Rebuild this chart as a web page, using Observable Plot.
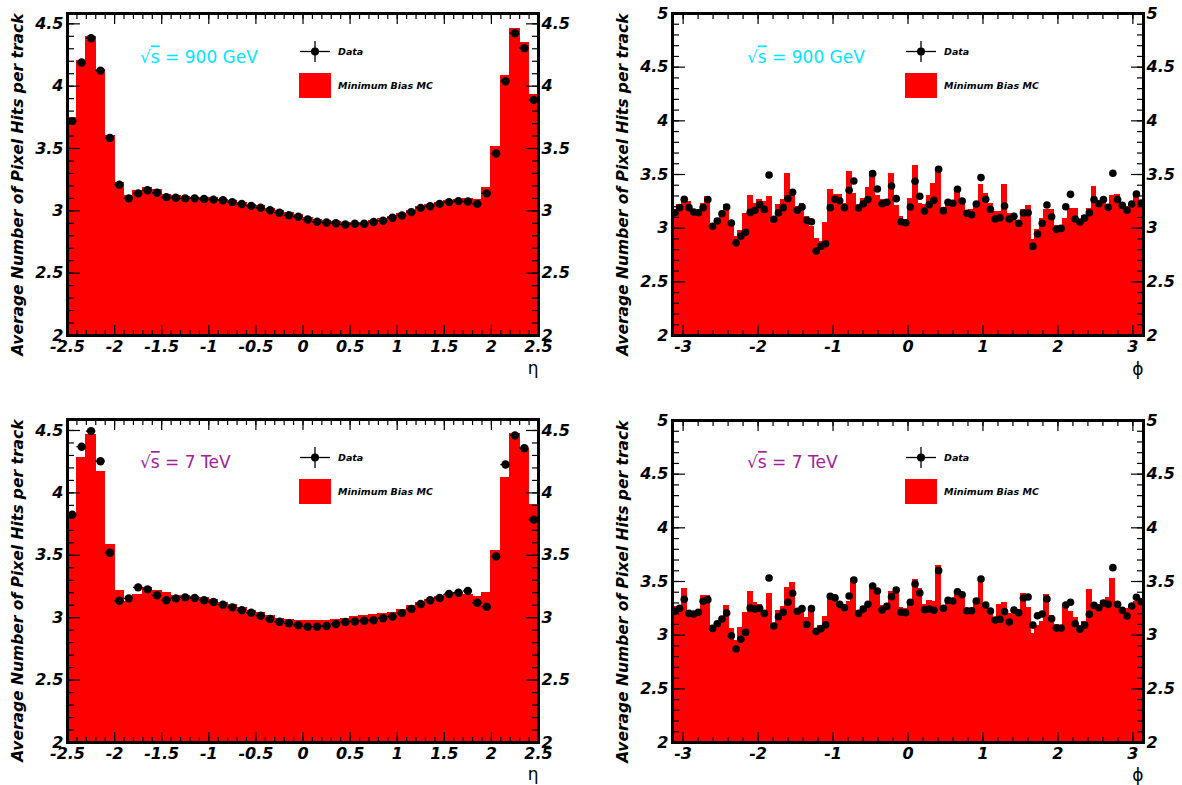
<!DOCTYPE html>
<html>
<head>
<meta charset="utf-8">
<script src="https://cdn.jsdelivr.net/npm/d3@7"></script>
<script src="https://cdn.jsdelivr.net/npm/@observablehq/plot@0.6"></script>
<style>
  body { margin: 0; background: #fff; }
  #page { position: relative; width: 1182px; height: 785px; overflow: hidden; background: #fff; }
  .panel { position: absolute; }
</style>
</head>
<body>
<div id="page"></div>
<script>
// Average pixel hits per track, data vs. minimum-bias MC, in bins of eta (50) and phi (100)
const eta900Data = [3.72, 4.19, 4.385, 4.125, 3.585, 3.21, 3.10, 3.14, 3.165, 3.145,
  3.11, 3.105, 3.10, 3.10, 3.095, 3.09, 3.085, 3.07, 3.055, 3.04,
  3.025, 3.005, 2.985, 2.965, 2.952, 2.93, 2.912, 2.906, 2.90, 2.89,
  2.896, 2.896, 2.91, 2.92, 2.944, 2.963, 2.99, 3.024, 3.037, 3.056,
  3.07, 3.078, 3.075, 3.056, 3.14, 3.46, 4.04, 4.425, 4.305, 3.89];
const eta900MC = [3.745, 4.20, 4.395, 4.125, 3.60, 3.225, 3.12, 3.155, 3.18, 3.165,
  3.125, 3.115, 3.11, 3.105, 3.10, 3.10, 3.09, 3.08, 3.065, 3.05,
  3.035, 3.015, 2.995, 2.978, 2.962, 2.945, 2.925, 2.915, 2.91, 2.905,
  2.905, 2.905, 2.915, 2.93, 2.95, 2.97, 3.0, 3.03, 3.045, 3.065,
  3.08, 3.09, 3.095, 3.09, 3.18, 3.51, 4.08, 4.46, 4.345, 3.93];

const phi900Data = [3.144, 3.191, 3.269, 3.191, 3.150, 3.144, 3.191, 3.266, 3.017, 3.067,
  3.135, 3.197, 3.048, 2.864, 2.924, 2.961, 3.147, 3.166, 3.219, 3.175,
  3.496, 3.082, 3.144, 3.191, 3.275, 3.334, 3.166, 3.197, 3.073, 3.060,
  2.787, 2.830, 2.855, 3.191, 3.269, 3.256, 3.191, 3.353, 3.440, 3.188,
  3.228, 3.266, 3.508, 3.365, 3.228, 3.241, 3.393, 3.275, 3.060, 3.051,
  3.197, 3.437, 3.297, 3.160, 3.219, 3.259, 3.548, 3.163, 3.241, 3.231,
  3.362, 3.253, 3.138, 3.125, 3.225, 3.471, 3.269, 3.175, 3.085, 3.097,
  3.206, 3.085, 3.110, 3.045, 3.141, 3.144, 2.830, 2.945, 3.045, 3.216,
  3.107, 2.989, 2.998, 3.200, 3.315, 3.085, 3.057, 3.094, 3.144, 3.266,
  3.228, 3.266, 3.194, 3.511, 3.266, 3.212, 3.166, 3.225, 3.318, 3.234];
const phi900MC = [3.171, 3.212, 3.243, 3.243, 3.166, 3.15, 3.221, 3.29, 3.017, 3.088,
  3.14, 3.212, 3.01, 2.917, 2.97, 3.135, 3.296, 3.228, 3.259, 3.243,
  3.29, 3.073, 3.212, 3.265, 3.50, 3.305, 3.197, 3.228, 3.104, 3.01,
  2.901, 2.87, 3.048, 3.359, 3.305, 3.305, 3.228, 3.52, 3.32, 3.212,
  3.275, 3.374, 3.523, 3.296, 3.259, 3.259, 3.50, 3.206, 3.104, 3.073,
  3.275, 3.58, 3.228, 3.219, 3.30, 3.415, 3.56, 3.166, 3.253, 3.253,
  3.337, 3.243, 3.15, 3.166, 3.228, 3.40, 3.321, 3.222, 3.15, 3.15,
  3.405, 3.135, 3.104, 3.067, 3.166, 3.203, 2.886, 2.98, 3.088, 3.172,
  3.172, 3.017, 3.017, 3.088, 3.181, 3.175, 3.057, 3.11, 3.181, 3.384,
  3.243, 3.259, 3.156, 3.296, 3.305, 3.197, 3.197, 3.228, 3.29, 3.228];

const eta7Data = [3.826, 4.37, 4.495, 4.254, 3.52, 3.136, 3.155, 3.243, 3.227, 3.18,
  3.14, 3.155, 3.163, 3.158, 3.14, 3.126, 3.104, 3.083, 3.06, 3.04,
  3.016, 2.99, 2.968, 2.955, 2.94, 2.928, 2.928, 2.933, 2.95, 2.965,
  2.97, 2.976, 2.98, 2.995, 3.01, 3.037, 3.07, 3.11, 3.14, 3.158,
  3.19, 3.20, 3.214, 3.12, 3.088, 3.49, 4.227, 4.46, 4.358, 3.786];
const eta7MC = [3.82, 4.28, 4.46, 4.166, 3.585, 3.217, 3.128, 3.18, 3.235, 3.21,
  3.195, 3.176, 3.176, 3.168, 3.155, 3.14, 3.12, 3.10, 3.078, 3.056,
  3.037, 3.013, 2.99, 2.98, 2.976, 2.97, 2.97, 2.976, 2.984, 2.992,
  3.003, 3.01, 3.02, 3.03, 3.04, 3.06, 3.09, 3.12, 3.14, 3.163,
  3.185, 3.198, 3.18, 3.168, 3.198, 3.53, 4.117, 4.473, 4.34, 3.9];

const phi7Data = [3.222, 3.250, 3.334, 3.203, 3.197, 3.213, 3.315, 3.331, 3.063, 3.107,
  3.150, 3.207, 2.995, 2.871, 2.961, 3.026, 3.253, 3.244, 3.250, 3.203,
  3.533, 3.085, 3.172, 3.213, 3.306, 3.390, 3.222, 3.247, 3.100, 3.247,
  3.035, 3.060, 3.097, 3.362, 3.347, 3.287, 3.256, 3.365, 3.514, 3.203,
  3.244, 3.287, 3.458, 3.412, 3.234, 3.268, 3.359, 3.421, 3.213, 3.209,
  3.306, 3.477, 3.393, 3.237, 3.244, 3.231, 3.601, 3.250, 3.324, 3.318,
  3.405, 3.377, 3.228, 3.228, 3.318, 3.523, 3.281, 3.225, 3.141, 3.147,
  3.219, 3.122, 3.234, 3.209, 3.346, 3.356, 3.094, 3.181, 3.197, 3.337,
  3.153, 3.066, 3.066, 3.281, 3.306, 3.107, 3.054, 3.094, 3.194, 3.278,
  3.256, 3.299, 3.287, 3.629, 3.287, 3.231, 3.179, 3.272, 3.353, 3.312];
const phi7MC = [3.26, 3.25, 3.43, 3.17, 3.17, 3.21, 3.367, 3.367, 3.087, 3.10,
  3.15, 3.275, 3.056, 2.948, 3.063, 3.206, 3.40, 3.296, 3.281, 3.197,
  3.38, 3.094, 3.222, 3.259, 3.437, 3.486, 3.244, 3.259, 3.156, 3.244,
  3.056, 3.087, 3.165, 3.367, 3.343, 3.281, 3.213, 3.306, 3.523, 3.213,
  3.259, 3.299, 3.43, 3.43, 3.275, 3.275, 3.40, 3.437, 3.25, 3.244,
  3.321, 3.517, 3.43, 3.281, 3.321, 3.312, 3.639, 3.259, 3.337, 3.321,
  3.384, 3.368, 3.237, 3.237, 3.29, 3.539, 3.268, 3.213, 3.156, 3.281,
  3.30, 3.197, 3.213, 3.213, 3.384, 3.25, 3.01, 3.088, 3.119, 3.374,
  3.181, 3.094, 3.088, 3.281, 3.213, 3.156, 3.088, 3.119, 3.424, 3.30,
  3.275, 3.321, 3.343, 3.523, 3.29, 3.244, 3.244, 3.265, 3.312, 3.321];

// Axis tick labels
const etaTickLabels = [-2.5, -2, -1.5, -1, -0.5, 0, 0.5, 1, 1.5, 2, 2.5];
const phiTickLabels = [-3, -2, -1, 0, 1, 2, 3];
const etaYTickLabels = [2, 2.5, 3, 3.5, 4, 4.5];
const phiYTickLabels = [2, 2.5, 3, 3.5, 4, 4.5, 5];

// Texts
const yTitle = "Average Number of Pixel Hits per track";
const legendNames = ["Data", "Minimum Bias MC"];
const energies = [
  {pre: "√", rad: "s", post: " = 900 GeV", color: "#00e5ff"},
  {pre: "√", rad: "s", post: " = 7 TeV", color: "#a020a0"}
];

const FONT = '"DejaVu Sans", "Liberation Sans", sans-serif';

function minorTicks(a, b, step) {
  const n0 = Math.ceil(a / step - 1e-9), n1 = Math.floor(b / step + 1e-9);
  return d3.range(n0, n1 + 1).map(k => +(k * step).toFixed(6));
}

function histPanel(cfg) {
  const n = cfg.data.length;
  const [x0, x1] = cfg.xDomain;
  const w = (x1 - x0) / n;
  const rows = cfg.data.map((v, i) => ({
    lo: x0 + i * w, hi: x0 + (i + 1) * w, mid: x0 + (i + 0.5) * w,
    data: v, mc: cfg.mc[i]
  }));
  const fmt = d => String(d);
  const yMinor = minorTicks(cfg.yDomain[0], cfg.yDomain[1], 0.1);
  const xMinor = minorTicks(x0, x1, cfg.xMinorStep);
  const tickStyle = {label: null, text: null, strokeWidth: 1.2};

  const marks = [
    // MC histogram, filled from below the visible range
    Plot.rect(rows, {x1: "lo", x2: "hi", y1: 0, y2: "mc", fill: "#ff0000", stroke: "#ff0000", strokeWidth: 1.2, shapeRendering: "crispEdges", clip: true})
  ];
  if (cfg.xErrors) {
    marks.push(Plot.ruleY(rows, {y: "data", x1: "lo", x2: "hi", stroke: "black", strokeWidth: 1.3, clip: true}));
  }
  marks.push(Plot.dot(rows, {x: "mid", y: "data", r: cfg.r, fill: "black", stroke: null}));

  marks.push(
    // inward ticks on all four sides
    Plot.axisY({...tickStyle, ticks: yMinor, anchor: "left", tickSize: -7}),
    Plot.axisY({...tickStyle, ticks: cfg.yTicks, anchor: "left", tickSize: -13}),
    Plot.axisY({...tickStyle, ticks: yMinor, anchor: "right", tickSize: -7}),
    Plot.axisY({...tickStyle, ticks: cfg.yTicks, anchor: "right", tickSize: -13}),
    Plot.axisX({...tickStyle, ticks: xMinor, anchor: "bottom", tickSize: -5}),
    Plot.axisX({...tickStyle, ticks: cfg.xTicks, anchor: "bottom", tickSize: -10}),
    Plot.axisX({...tickStyle, ticks: xMinor, anchor: "top", tickSize: -5}),
    Plot.axisX({...tickStyle, ticks: cfg.xTicks, anchor: "top", tickSize: -10}),
    // tick labels: left, right, bottom
    Plot.axisY({ticks: cfg.yTicks, anchor: "left", tickSize: 0, tickPadding: 4, tickFormat: fmt, label: null}),
    Plot.axisY({ticks: cfg.yTicks, anchor: "right", tickSize: 0, tickPadding: 3, tickFormat: fmt, label: null}),
    Plot.axisX({ticks: cfg.xTicks, anchor: "bottom", tickSize: 0, tickPadding: 5, tickFormat: fmt, label: null}),
    // axis titles
    Plot.text([yTitle], {text: d => d, frameAnchor: "top-left", rotate: -90, textAnchor: "end", lineAnchor: "bottom", dx: -45, fontSize: 15.5}),
    Plot.text([cfg.xTitle], {text: d => d, frameAnchor: "bottom-right", textAnchor: "end", lineAnchor: "bottom", dy: cfg.xTitleDy, fontSize: 17, fontWeight: "normal", fontStyle: "normal"}),
    Plot.frame({stroke: "black", strokeWidth: 3})
  );

  const svg = Plot.plot({
    width: cfg.width, height: cfg.height,
    marginTop: cfg.m[0], marginRight: cfg.m[1], marginBottom: cfg.m[2], marginLeft: cfg.m[3],
    x: {domain: cfg.xDomain, label: null},
    y: {domain: cfg.yDomain, label: null},
    style: {fontFamily: FONT, fontSize: "16px", fontWeight: "bold", fontStyle: "italic", background: "transparent", overflow: "visible", color: "black"},
    marks
  });
  const holder = document.createElement("div");
  holder.className = "panel";
  holder.style.left = cfg.left + "px";
  holder.style.top = cfg.top + "px";
  holder.appendChild(svg);
  document.getElementById("page").appendChild(holder);
}

const PI = Math.PI;
histPanel({left: 0, top: 0, width: 591, height: 392, m: [13, 53, 57, 67],
  xDomain: [-2.5, 2.5], yDomain: [2, 4.583], xTicks: etaTickLabels, yTicks: etaYTickLabels, xMinorStep: 0.1,
  data: eta900Data, mc: eta900MC, xErrors: true, r: 4.2, xTitle: "η", xTitleDy: 38});
histPanel({left: 591, top: 0, width: 591, height: 392, m: [13, 39, 57, 81],
  xDomain: [-PI, PI], yDomain: [2, 5], xTicks: phiTickLabels, yTicks: phiYTickLabels, xMinorStep: 0.2,
  data: phi900Data, mc: phi900MC, xErrors: false, r: 3.8, xTitle: "ϕ", xTitleDy: 39});
histPanel({left: 0, top: 400, width: 591, height: 385, m: [19, 53, 43, 67],
  xDomain: [-2.5, 2.5], yDomain: [2, 4.588], xTicks: etaTickLabels, yTicks: etaYTickLabels, xMinorStep: 0.1,
  data: eta7Data, mc: eta7MC, xErrors: true, r: 4.2, xTitle: "η", xTitleDy: 37});
histPanel({left: 591, top: 400, width: 591, height: 385, m: [20, 39, 43, 81],
  xDomain: [-PI, PI], yDomain: [2, 5], xTicks: phiTickLabels, yTicks: phiYTickLabels, xMinorStep: 0.2,
  data: phi7Data, mc: phi7MC, xErrors: false, r: 3.8, xTitle: "ϕ", xTitleDy: 38});

// Legends and centre-of-mass energy labels
const overlay = d3.select("#page").append("svg")
  .attr("width", 1182).attr("height", 785)
  .style("position", "absolute").style("left", "0px").style("top", "0px")
  .style("pointer-events", "none");

function legend(x, y) {
  const g = overlay.append("g").attr("transform", `translate(${x},${y})`)
    .style("font-family", FONT).style("font-weight", "bold").style("font-style", "italic").style("font-size", "9.5px");
  g.append("line").attr("x1", 1).attr("x2", 31).attr("y1", 11.5).attr("y2", 11.5).attr("stroke", "black").attr("stroke-width", 1.3);
  g.append("line").attr("x1", 16).attr("x2", 16).attr("y1", 1).attr("y2", 22).attr("stroke", "black").attr("stroke-width", 1.3);
  g.append("circle").attr("cx", 16).attr("cy", 11.5).attr("r", 4).attr("fill", "black");
  g.append("text").attr("x", 39).attr("y", 15).text(legendNames[0]);
  g.append("rect").attr("x", 0).attr("y", 33).attr("width", 32).attr("height", 25).attr("fill", "#ff0000");
  g.append("text").attr("x", 39).attr("y", 49).text(legendNames[1]);
}

function energy(x, y, e) {
  const t = overlay.append("text").attr("x", x).attr("y", y)
    .style("font-family", FONT).style("font-size", "17px").attr("fill", e.color);
  t.append("tspan").text(e.pre);
  t.append("tspan").attr("text-decoration", "overline").text(e.rad);
  t.append("tspan").text(e.post);
}

legend(299, 40);
legend(905, 40);
legend(299, 446);
legend(905, 446);
energy(140, 62.5, energies[0]);
energy(747, 62.5, energies[0]);
energy(140, 468, energies[1]);
energy(747, 468, energies[1]);
</script>
</body>
</html>
